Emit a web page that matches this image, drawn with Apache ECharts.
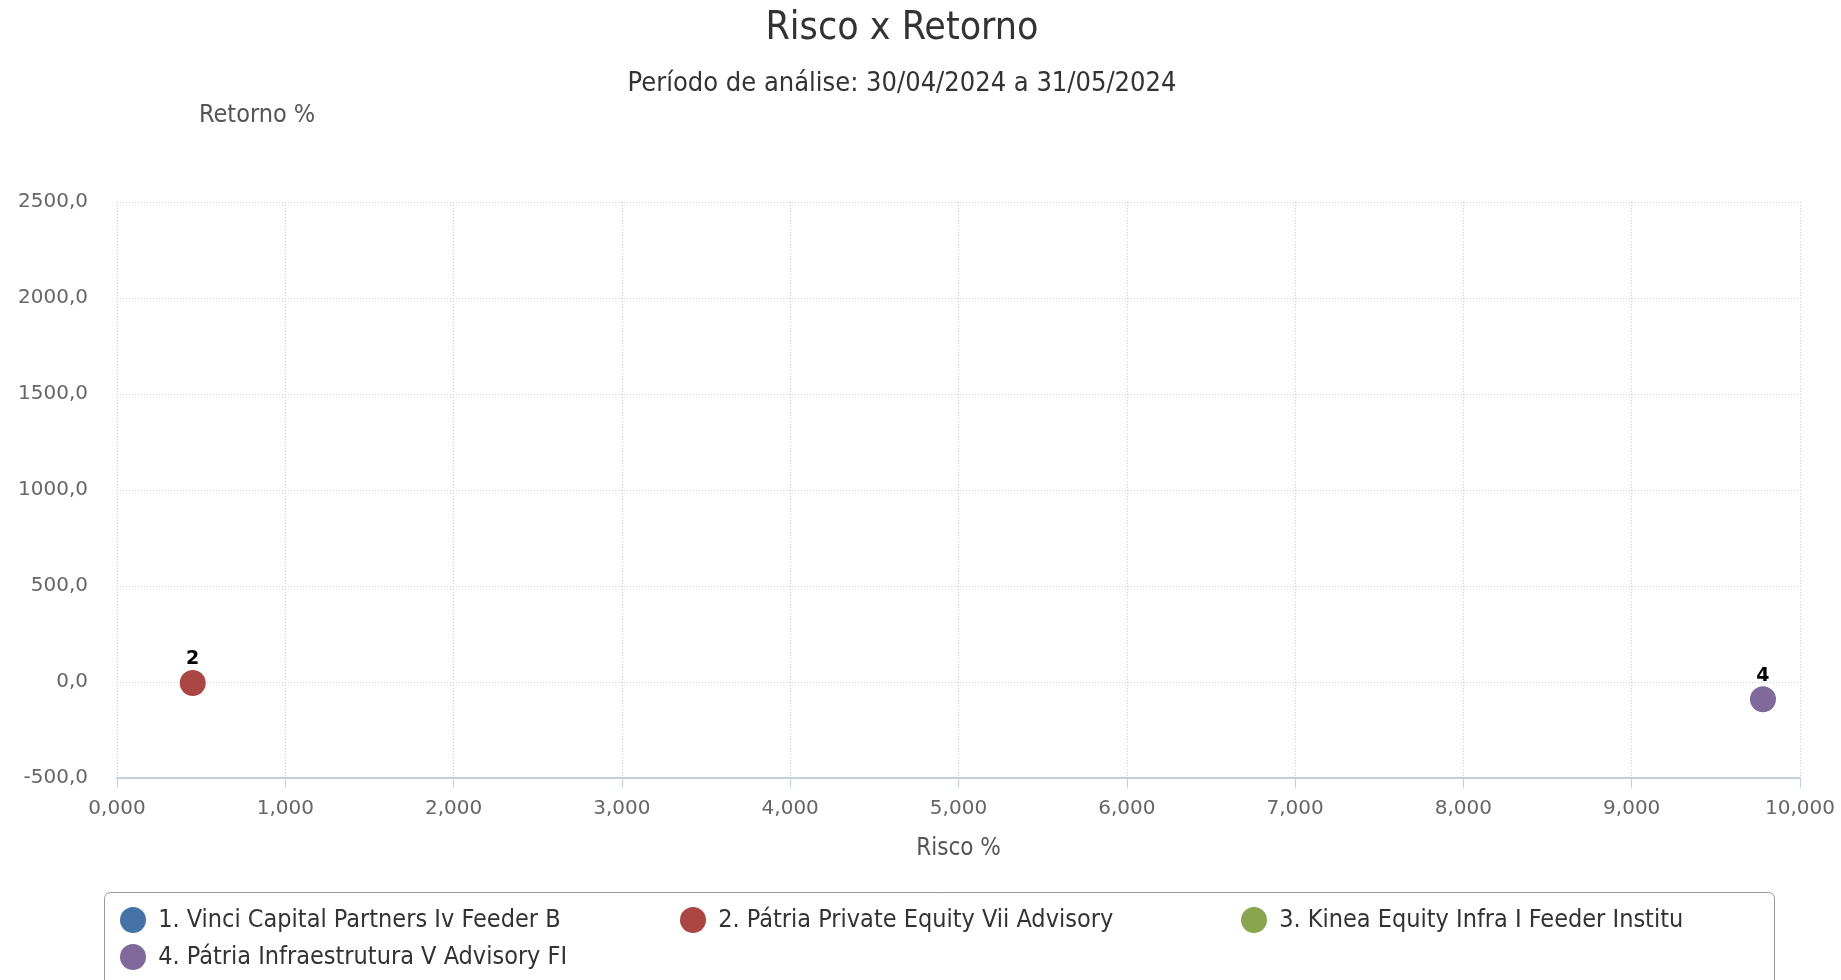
<!DOCTYPE html>
<html>
<head>
<meta charset="utf-8">
<script src="https://cdn.jsdelivr.net/npm/echarts@6/dist/echarts.min.js"></script>
<style>
    html, body { margin: 0; padding: 0; background: #fff; }
    #main { width: 1841px; height: 980px; }
</style>
</head>
<body>
<div id="main"></div>
<script type="text/javascript">
    // dados do gráfico
    var fundNames = [
        '1. Vinci Capital Partners Iv Feeder B',
        '2. Pátria Private Equity Vii Advisory',
        '3. Kinea Equity Infra I Feeder Institu',
        '4. Pátria Infraestrutura V Advisory FI'
    ];
    var pointLabels = ['1', '2', '3', '4'];
    var riscoValues = [null, 0.45, null, 9.78];
    var retornoValues = [null, -5, null, -90];
    var fundColors = ['#4572A7', '#AA4643', '#89A54E', '#80699B'];

    var fonteTexto = '"DejaVu Sans Condensed", "DejaVu Sans", sans-serif';
    var fonteEixo = '"DejaVu Sans", sans-serif';

    // posição de cada item da legenda (3 colunas)
    var legendLeft = [120, 680, 1241, 120];
    var legendTop = [907, 907, 907, 944];

    var serie = [];
    var legendas = [];
    for (var i = 0; i < fundNames.length; i++) {
        var pts = [];
        if (riscoValues[i] !== null && retornoValues[i] !== null) {
            pts.push([riscoValues[i], retornoValues[i]]);
        }
        serie.push({
            name: fundNames[i],
            type: 'scatter',
            symbol: 'circle',
            symbolSize: 26,
            itemStyle: { color: fundColors[i], opacity: 1 },
            label: {
                show: true,
                position: 'top',
                distance: 1,
                formatter: pointLabels[i],
                color: '#000',
                fontWeight: 'bold',
                fontSize: 19,
                fontFamily: fonteEixo
            },
            data: pts
        });
        legendas.push({
            left: legendLeft[i],
            top: legendTop[i],
            padding: 0,
            itemWidth: 26,
            itemHeight: 26,
            icon: 'circle',
            formatter: function (name) { return ' ' + name; },
            textStyle: { fontSize: 25, color: '#333', fontFamily: fonteTexto },
            data: [fundNames[i]]
        });
    }

    var myChart = echarts.init(document.getElementById('main'));
    myChart.setOption({
        animation: false,
        title: {
            text: 'Risco x Retorno',
            subtext: 'Período de análise: 30/04/2024 a 31/05/2024',
            left: 897,
            textAlign: 'center',
            top: 4,
            itemGap: 22,
            textStyle: { fontSize: 39, fontWeight: 'normal', color: '#333', fontFamily: fonteTexto },
            subtextStyle: { fontSize: 27, color: '#333', fontFamily: fonteTexto }
        },
        graphic: [{
            type: 'rect',
            shape: { x: 104.5, y: 892.5, width: 1670, height: 130, r: 6 },
            style: { fill: 'none', stroke: '#999', lineWidth: 1 },
            silent: true
        }],
        grid: {
            left: 117,
            right: 41,
            top: 202,
            bottom: 202
        },
        legend: legendas,
        xAxis: {
            type: 'value',
            min: 0,
            max: 10,
            interval: 1,
            name: 'Risco %',
            nameLocation: 'middle',
            nameGap: 59,
            nameTextStyle: { fontSize: 24, color: '#555', fontFamily: fonteTexto },
            axisLine: { show: true, onZero: false, lineStyle: { color: '#C0D0E0', width: 2 } },
            axisTick: { show: true, length: 10, lineStyle: { color: '#C0D0E0' } },
            axisLabel: {
                margin: 21,
                fontSize: 20,
                color: '#666',
                fontFamily: fonteEixo,
                formatter: function (v) { return v.toFixed(3).replace('.', ','); }
            },
            splitLine: { show: true, lineStyle: { color: '#ccc', type: [1, 2] } }
        },
        yAxis: {
            type: 'value',
            min: -500,
            max: 2500,
            interval: 500,
            name: 'Retorno %',
            nameLocation: 'end',
            nameGap: 74,
            nameTextStyle: { fontSize: 25, color: '#555', fontFamily: fonteTexto, align: 'left', padding: [0, 0, 0, 82] },
            axisLine: { show: false },
            axisTick: { show: false },
            axisLabel: {
                margin: 29,
                fontSize: 20,
                color: '#666',
                fontFamily: fonteEixo,
                formatter: function (v) { return v.toFixed(1).replace('.', ','); }
            },
            splitLine: { show: true, lineStyle: { color: '#ccc', type: [1, 2] } }
        },
        series: serie
    });
</script>
</body>
</html>
